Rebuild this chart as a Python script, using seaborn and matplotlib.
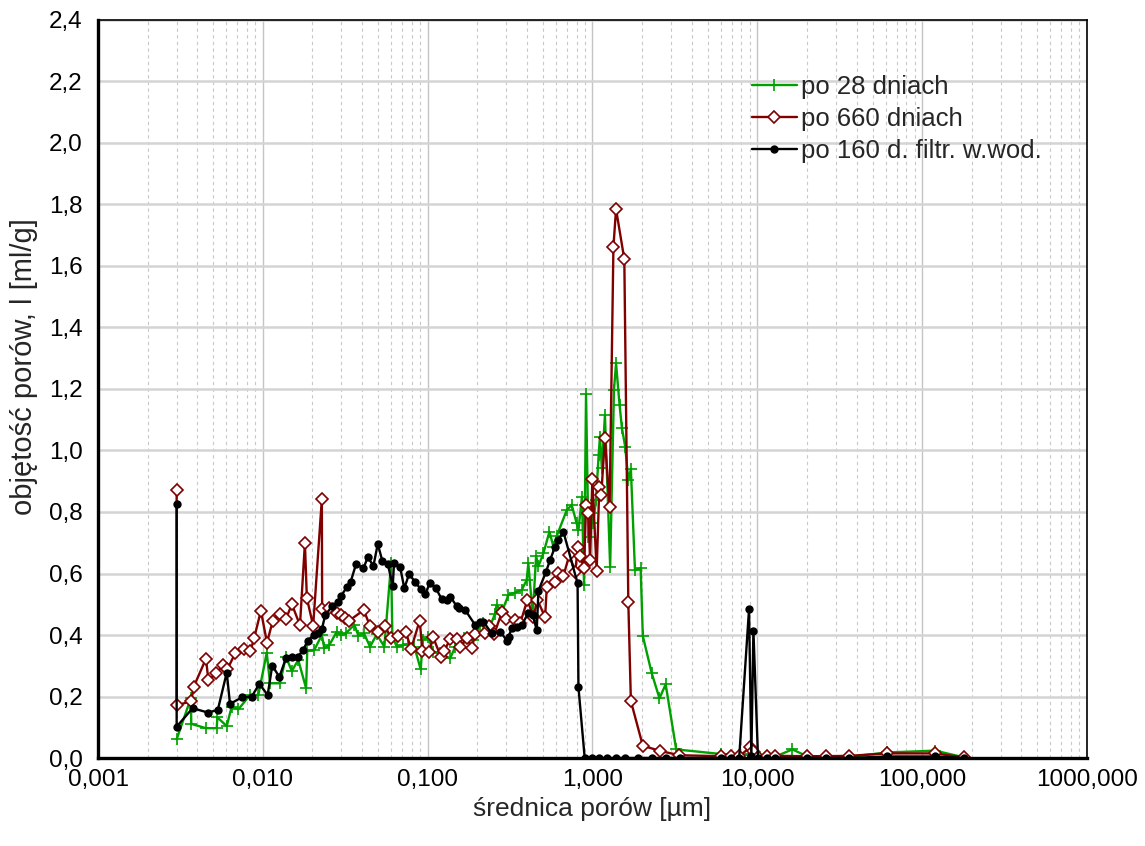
import matplotlib
matplotlib.use("Agg")
import matplotlib.pyplot as plt
from matplotlib.ticker import (FixedLocator, LogLocator, MultipleLocator, FuncFormatter,
                               NullFormatter)
import seaborn as sns

# Pore size distribution (mercury porosimetry): pore diameter [µm] vs pore volume
d28_x = [0.00300, 0.00366, 0.00368, 0.00452, 0.00525, 0.00530, 0.00604, 0.00647, 0.00710,
         0.00836, 0.00939, 0.01056, 0.01106, 0.0127, 0.0138, 0.0150, 0.0164, 0.0183, 0.0186,
         0.0205, 0.0228, 0.0236, 0.0253, 0.0281, 0.0298, 0.0318, 0.0359, 0.0380, 0.0411,
         0.0447, 0.0491, 0.0546, 0.0600, 0.0611, 0.0650, 0.0713, 0.0764, 0.0830, 0.0908,
         0.0933, 0.101, 0.108, 0.119, 0.137, 0.147, 0.165, 0.189, 0.208, 0.218, 0.239, 0.256,
         0.262, 0.282, 0.309, 0.339, 0.372, 0.399, 0.408, 0.434, 0.455, 0.470, 0.504, 0.548,
         0.580, 0.607, 0.698, 0.748, 0.802, 0.822, 0.863, 0.889, 0.914, 0.944, 0.977, 1.01,
         1.05, 1.09, 1.11, 1.14, 1.19, 1.28, 1.35, 1.39, 1.46, 1.51, 1.58, 1.65, 1.71, 1.81,
         1.96, 2.02, 2.29, 2.55, 2.78, 3.22, 6.01, 7.76, 8.91, 9.47, 10.4, 12.8, 16.3, 20.0,
         26.1, 36.1, 61.1, 120.0, 180.0]
d28_y = [0.061, 0.195, 0.111, 0.097, 0.097, 0.132, 0.104, 0.167, 0.158,
         0.205, 0.205, 0.342, 0.243, 0.243, 0.329, 0.283, 0.319, 0.227, 0.349,
         0.351, 0.400, 0.357, 0.367, 0.411, 0.400, 0.405, 0.433, 0.398, 0.405,
         0.362, 0.402, 0.362, 0.633, 0.395, 0.362, 0.367, 0.371, 0.362, 0.288,
         0.384, 0.392, 0.346, 0.340, 0.324, 0.362, 0.389, 0.384, 0.433, 0.440, 0.429, 0.468,
         0.498, 0.476, 0.530, 0.538, 0.546, 0.579, 0.633, 0.465, 0.657, 0.624, 0.666, 0.736,
         0.687, 0.722, 0.806, 0.823, 0.763, 0.741, 0.850, 0.563, 1.184, 0.720, 0.796, 0.763,
         0.839, 0.985, 1.045, 0.942, 1.115, 0.622, 1.197, 1.283, 1.148, 1.072, 1.012, 0.904,
         0.939, 0.611, 0.617, 0.397, 0.275, 0.194, 0.240, 0.028, 0.013, 0.004, 0.013, 0.006,
         0.004, 0.004, 0.028, 0.006, 0.004, 0.004, 0.018, 0.024, 0.002]

d660_x = [0.00300, 0.00300, 0.00368, 0.00381, 0.00452, 0.00467, 0.00522, 0.00573, 0.00609,
          0.00681, 0.00765, 0.00841, 0.00885, 0.00973, 0.0106, 0.0115, 0.0127, 0.0138,
          0.0150, 0.0168, 0.0180, 0.0185, 0.0202, 0.0228, 0.0229, 0.0251, 0.0281, 0.0298,
          0.0316, 0.0335, 0.0409, 0.0447, 0.0500, 0.0551, 0.0597, 0.0658, 0.0736, 0.0793,
          0.0895, 0.0929, 0.102, 0.108, 0.1205, 0.126, 0.137, 0.150, 0.157, 0.173, 0.185,
          0.194, 0.223, 0.237, 0.253, 0.282, 0.299, 0.339, 0.364, 0.403, 0.438, 0.463, 0.516,
          0.528, 0.593, 0.621, 0.666, 0.724, 0.785, 0.815, 0.841, 0.889, 0.914, 0.944, 0.967,
          0.998, 1.06, 1.10, 1.13, 1.19, 1.27, 1.34, 1.39, 1.56, 1.65, 1.71, 2.02, 2.57, 3.37,
          6.01, 6.90, 7.76, 9.04, 9.47, 10.1, 11.4, 12.8, 20.0, 26.1, 36.1, 61.1, 120.0, 180.0]
d660_y = [0.870, 0.171, 0.185, 0.232, 0.323, 0.254, 0.275, 0.302, 0.288,
          0.342, 0.354, 0.348, 0.389, 0.479, 0.375, 0.447, 0.468, 0.452,
          0.500, 0.432, 0.699, 0.520, 0.430, 0.841, 0.485, 0.488, 0.473, 0.464,
          0.456, 0.447, 0.481, 0.430, 0.409, 0.430, 0.391, 0.398, 0.411, 0.355,
          0.447, 0.349, 0.346, 0.392, 0.329, 0.349, 0.386, 0.386, 0.362, 0.391, 0.357,
          0.402, 0.407, 0.429, 0.402, 0.474, 0.452, 0.449, 0.438, 0.514, 0.458, 0.514, 0.458,
          0.555, 0.573, 0.603, 0.592, 0.660, 0.604, 0.687, 0.658, 0.617, 0.823, 0.796, 0.644,
          0.906, 0.609, 0.882, 0.855, 1.040, 0.815, 1.663, 1.785, 1.622, 0.506, 0.185, 0.040,
          0.023, 0.009, 0.006, 0.005, 0.005, 0.035, 0.024, 0.004, 0.007, 0.007, 0.006, 0.006,
          0.007, 0.015, 0.015, 0.002]

d160_x = [0.00300, 0.00300, 0.00375, 0.00463, 0.00533, 0.00604, 0.00632, 0.00745, 0.00857,
          0.00952, 0.0107, 0.0114, 0.0126, 0.0138, 0.0150, 0.0163, 0.0176, 0.0187, 0.0204,
          0.0215, 0.0228, 0.0239, 0.0264, 0.0285, 0.0298, 0.0323, 0.0341, 0.0368, 0.0408,
          0.0433, 0.0469, 0.0498, 0.0531, 0.0573, 0.0614, 0.0625, 0.0680, 0.0722, 0.0771,
          0.0839, 0.0908, 0.0964, 0.103, 0.112, 0.122, 0.131, 0.137, 0.150, 0.156, 0.169,
          0.194, 0.208, 0.218, 0.245, 0.275, 0.305, 0.310, 0.324, 0.347, 0.372, 0.408, 0.434,
          0.459, 0.470, 0.523, 0.553, 0.593, 0.621, 0.666, 0.812, 0.822, 0.897, 1.00, 1.10,
          1.22, 1.38, 1.58, 1.90, 2.30, 2.80, 3.40, 6.01, 6.90, 7.76, 8.91, 9.20, 9.47, 10.1,
          11.4, 12.8, 20.0, 26.1, 36.1, 61.1, 120.0, 180.0]
d160_y = [0.825, 0.102, 0.162, 0.148, 0.156, 0.278, 0.176, 0.197, 0.200,
          0.241, 0.205, 0.300, 0.264, 0.324, 0.330, 0.330, 0.351, 0.382, 0.400,
          0.408, 0.418, 0.465, 0.494, 0.508, 0.527, 0.555, 0.573, 0.631, 0.617,
          0.653, 0.625, 0.696, 0.641, 0.631, 0.559, 0.633, 0.622, 0.552, 0.598,
          0.573, 0.549, 0.532, 0.568, 0.552, 0.516, 0.514, 0.525, 0.494, 0.487, 0.481,
          0.433, 0.443, 0.443, 0.405, 0.411, 0.380, 0.395, 0.422, 0.427, 0.433, 0.471, 0.465,
          0.416, 0.544, 0.606, 0.644, 0.687, 0.709, 0.736, 0.568, 0.230, 0.000, 0.000, 0.000,
          0.000, 0.000, 0.000, 0.000, 0.000, 0.000, 0.000, 0.000, 0.000, 0.000, 0.484, 0.005, 0.414, 0.000,
          0.000, 0.000, 0.000, 0.000, 0.000, 0.005, 0.005, 0.000]

x_ticks = [0.001, 0.01, 0.1, 1, 10, 100, 1000]
labels = ["po 28 dniach", "po 660 dniach", "po 160 d. filtr. w.wod."]
x_label = "średnica porów [µm]"
y_label = "objętość porów, l [ml/g]"

sns.set_style("white")
plt.rcParams["font.family"] = ["Liberation Sans", "DejaVu Sans"]

fig = plt.figure(figsize=(11.45, 8.46), dpi=100)
ax = fig.add_axes([0.0856, 0.104, 0.8637, 0.8724])

GREEN = "#00a000"
RED = "#800000"

sns.lineplot(x=d28_x, y=d28_y, ax=ax, estimator=None, sort=False, color=GREEN,
             linewidth=1.7, marker="+", markersize=9, markeredgewidth=1.2,
             markeredgecolor=GREEN, label=labels[0], legend=False)
sns.lineplot(x=d660_x, y=d660_y, ax=ax, estimator=None, sort=False, color=RED,
             linewidth=1.7, marker="D", markersize=6.5, markeredgewidth=1.2,
             markeredgecolor=RED, markerfacecolor="white", label=labels[1], legend=False)
sns.lineplot(x=d160_x, y=d160_y, ax=ax, estimator=None, sort=False, color="black",
             linewidth=1.7, marker="o", markersize=6, markeredgewidth=0,
             markerfacecolor="black", label=labels[2], legend=False)

ax.set_xscale("log")
ax.set_xlim(x_ticks[0], x_ticks[-1])
ax.set_ylim(0, 2.4)

ax.xaxis.set_major_locator(FixedLocator(x_ticks))
ax.xaxis.set_minor_locator(LogLocator(base=10, subs=range(2, 10), numticks=100))
ax.xaxis.set_major_formatter(FuncFormatter(lambda v, p: f"{v:.3f}".replace(".", ",")))
ax.xaxis.set_minor_formatter(NullFormatter())
ax.yaxis.set_major_locator(MultipleLocator(0.2))
ax.yaxis.set_minor_locator(MultipleLocator(0.1))
ax.yaxis.set_major_formatter(FuncFormatter(lambda v, p: f"{v:.1f}".replace(".", ",")))

ax.grid(which="major", axis="y", color="#d4d4d4", linewidth=1.8, linestyle="-")
ax.grid(which="major", axis="x", color="#c4c4c4", linewidth=1.0, linestyle="-")
ax.grid(which="minor", axis="x", color="#c8c8c8", linewidth=0.8, linestyle=(0, (3, 3)))
ax.set_axisbelow(True)

ax.tick_params(which="both", direction="in", top=False, right=False, colors="black")
ax.tick_params(which="major", length=9, width=1.5, labelsize=17.5)
ax.tick_params(which="minor", length=4, width=1.2)
ax.tick_params(axis="y", which="major", pad=11)
ax.tick_params(axis="x", which="major", pad=8)

for side in ("left", "bottom"):
    ax.spines[side].set_linewidth(2.4)
    ax.spines[side].set_color("black")
for side in ("top", "right"):
    ax.spines[side].set_linewidth(1.2)
    ax.spines[side].set_color("black")

ax.set_xlabel(x_label, fontsize=19, labelpad=4)
ax.set_ylabel(y_label, fontsize=21)
ax.yaxis.set_label_coords(-0.061, 0.53)

handles = ax.get_lines()[:3]
ax.legend(handles, labels, loc="upper left", bbox_to_anchor=(0.661, 0.925),
          frameon=False, fontsize=18.5, handlelength=1.75, handletextpad=0.15,
          labelspacing=0.3, borderaxespad=0, borderpad=0, numpoints=1)

fig.savefig("out.png", dpi=100)
